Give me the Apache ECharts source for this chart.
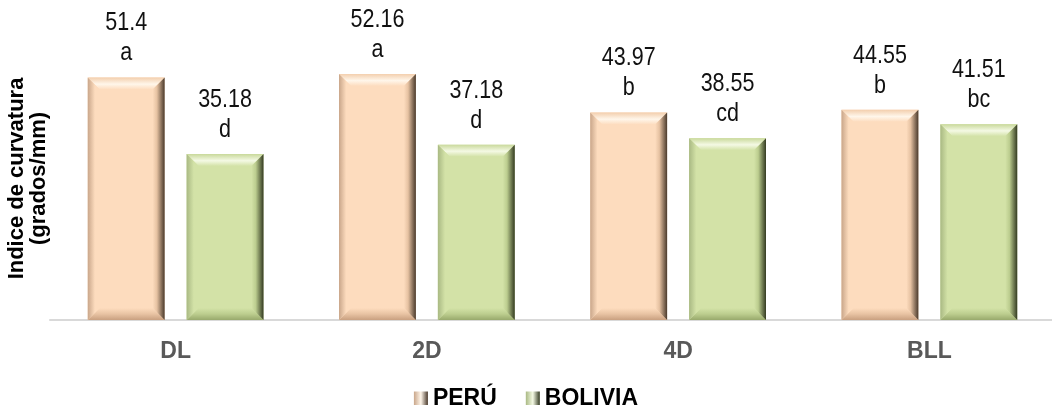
<!DOCTYPE html>
<html>
<head>
<meta charset="utf-8">
<script src="https://cdn.jsdelivr.net/npm/echarts@6/dist/echarts.min.js"></script>
<style>
  html, body { margin: 0; padding: 0; background: #fff; }
  #chart { width: 1052px; height: 405px; }
</style>
</head>
<body>
<div id="chart"></div>
<script>
// Curvature index (degrees/mm) per treatment, Peru vs Bolivia
const categories = ['DL', '2D', '4D', 'BLL'];
const peruValues = [51.4, 52.16, 43.97, 44.55];
const boliviaValues = [35.18, 37.18, 38.55, 41.51];
const peruLetters = ['a', 'a', 'b', 'b'];
const boliviaLetters = ['d', 'd', 'cd', 'bc'];
const seriesNames = ['PERÚ', 'BOLIVIA'];

const FONT = '"Liberation Sans", Arial, sans-serif';

// Face / bevel shades for each series
const palettes = {
  'PERÚ': {
    face: '#fddcbe', topEdge: '#f3cfae', topHi: '#fff6ea',
    bottom: '#e8c3a3', bottomEdge: '#c9a080',
    leftOuter: '#c9a68a', rightInner: '#e6c2a2', rightOuter: '#4a3a2c'
  },
  'BOLIVIA': {
    face: '#d3e2a7', topEdge: '#c9d99b', topHi: '#f4f9e4',
    bottom: '#bccd8e', bottomEdge: '#98a96c',
    leftOuter: '#a9b983', rightInner: '#bccd8f', rightOuter: '#343b22'
  }
};

function lin(x1, y1, x2, y2, stops) {
  return new echarts.graphic.LinearGradient(x1, y1, x2, y2,
    stops.map(s => ({ offset: s[0], color: s[1] })));
}

function makeRenderer(name, letters, side) {
  const p = palettes[name];
  return function (params, api) {
    const idx = api.value(0);
    const val = api.value(1);
    const band = api.size([1, 0])[0];
    const barW = band * 0.306;
    const gap = barW * 0.286;
    const center = api.coord([idx, 0])[0] + side * (barW + gap) / 2;
    const top = api.coord([idx, val])[1];
    const base = api.coord([idx, 0])[1];
    const x0 = center - barW / 2, x1 = center + barW / 2;
    const b = 12;
    const children = [
      { type: 'rect', shape: { x: x0, y: top, width: barW, height: base - top },
        style: { fill: p.face } },
      // top bevel
      { type: 'polygon', shape: { points: [[x0, top], [x1, top], [x1 - b, top + b], [x0 + b, top + b]] },
        style: { fill: lin(0, 0, 0, 1, [[0, p.topEdge], [0.55, p.topHi], [1, p.face]]) } },
      // bottom bevel
      { type: 'polygon', shape: { points: [[x0 + b, base - b], [x1 - b, base - b], [x1, base], [x0, base]] },
        style: { fill: lin(0, 0, 0, 1, [[0, p.face], [0.5, p.bottom], [1, p.bottomEdge]]) } },
      // left bevel
      { type: 'polygon', shape: { points: [[x0, top], [x0 + b, top + b], [x0 + b, base - b], [x0, base]] },
        style: { fill: lin(0, 0, 1, 0, [[0, p.leftOuter], [0.6, p.face], [1, p.face]]) } },
      // right bevel
      { type: 'polygon', shape: { points: [[x1 - b, top + b], [x1, top], [x1, base], [x1 - b, base - b]] },
        style: { fill: lin(0, 0, 1, 0, [[0, p.face], [0.35, p.rightInner], [1, p.rightOuter]]) } },
      // value and significance letter (narrowed to a condensed look)
      { type: 'text', x: center, y: top - 9, scaleX: 0.86,
        style: { text: String(val) + '\n' + letters[idx], align: 'center', verticalAlign: 'bottom',
                 fontSize: 25, lineHeight: 30, fontFamily: FONT, fill: '#111' } }
    ];
    return { type: 'group', children: children };
  };
}

// Legend swatch: darker sides, lighter middle, like the bevelled bars
function swatch(name) {
  const p = palettes[name];
  return lin(0, 0, 1, 0, [[0, p.leftOuter], [0.5, p.topHi], [1, p.rightOuter]]);
}

const chart = echarts.init(document.getElementById('chart'), null, { renderer: 'canvas' });
chart.setOption({
  animation: false,
  backgroundColor: '#fff',
  grid: { left: 50, width: 1005, top: 37, bottom: 85, containLabel: false, outerBoundsMode: 'none' },
  legend: {
    top: 382,
    left: 'center',
    itemWidth: 14, itemHeight: 14, itemGap: 29,
    textStyle: { fontSize: 23, fontWeight: 'bold', fontFamily: FONT, color: '#000' },
    data: seriesNames.map(n => ({ name: n, icon: 'rect', itemStyle: { color: swatch(n) } }))
  },
  xAxis: {
    type: 'category',
    data: categories,
    axisLine: { lineStyle: { color: '#d9d9d9', width: 2 } },
    axisTick: { show: false },
    axisLabel: { fontSize: 23, fontWeight: 'bold', color: '#595959', fontFamily: FONT, margin: 20 }
  },
  yAxis: {
    type: 'value', min: 0, max: 60,
    axisLine: { show: false }, axisTick: { show: false },
    axisLabel: { show: false }, splitLine: { show: false },
    name: 'Indice de curvatura\n(grados/mm)',
    nameLocation: 'middle', nameRotate: 90, nameGap: 0,
    nameTextStyle: { fontSize: 22, fontWeight: 'bold', fontFamily: FONT, color: '#000', lineHeight: 22 }
  },
  series: [
    { name: 'PERÚ', type: 'custom', itemStyle: { color: palettes['PERÚ'].face },
      encode: { x: 0, y: 1 },
      data: peruValues.map((v, i) => [i, v]),
      renderItem: makeRenderer('PERÚ', peruLetters, -1) },
    { name: 'BOLIVIA', type: 'custom', itemStyle: { color: palettes['BOLIVIA'].face },
      encode: { x: 0, y: 1 },
      data: boliviaValues.map((v, i) => [i, v]),
      renderItem: makeRenderer('BOLIVIA', boliviaLetters, 1) }
  ]
});
</script>
</body>
</html>
